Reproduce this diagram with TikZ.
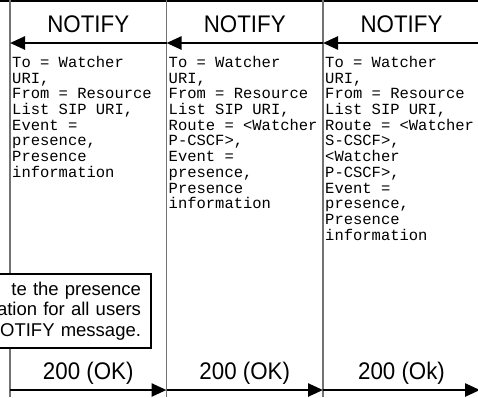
\documentclass[tikz,border=0pt]{standalone}
\usepackage{fontspec}
\setmainfont{Liberation Sans}
\newfontfamily\courierfont{Liberation Mono}
\usetikzlibrary{arrows.meta,positioning,calc}

\begin{document}
\begin{tikzpicture}[x=1pt,y=-1pt,>={Triangle[length=15pt,width=13pt]},
	msg/.style={->,line width=2.5pt},
	msg label/.style={anchor=base,yshift=11pt,inner sep=0pt,
		font=\addfontfeatures{FakeStretch=0.93}\fontsize{24}{26}\selectfont},
	param text/.style={anchor=north west,align=left,inner sep=0pt,
		font=\courierfont\fontsize{15.5}{15.7}\selectfont},
	note box/.style={draw,line width=2pt,fill=white,align=right,text width=190pt,
		minimum height=74pt,inner xsep=10pt,font=\fontsize{18.5}{20.5}\selectfont},
	lifeline/.style={draw=black!55,line width=1.2pt}]

  \useasboundingbox (0,0) rectangle (478,397);
  \clip (0,0) rectangle (478,397);

  % lifelines
  \coordinate (ue) at (10,0);
  \coordinate (pcscf) at (166.5,0);
  \coordinate (scscf) at (323,0);
  \coordinate (rls) at (480,0);
  % message rows
  \coordinate (notify) at (0,43);
  \coordinate (ok) at (0,390);
  \coordinate (bottom) at (0,397);

  \draw[line width=2.5pt] (0,1.2) -- (478,1.2);

  \draw[lifeline] (ue) -- (ue |- bottom);
  \draw[lifeline] (pcscf) -- (pcscf |- bottom);
  \draw[lifeline] (scscf) -- (scscf |- bottom);

  \draw[msg] (rls |- notify) -- node[msg label] {NOTIFY} (scscf |- notify);
  \draw[msg] (scscf |- notify) -- node[msg label] {NOTIFY} (pcscf |- notify);
  \draw[msg] (pcscf |- notify) -- node[msg label] {NOTIFY} (ue |- notify);

  \node[param text] (params1) at (12,56) {To = Watcher\\URI,\\From = Resource\\List SIP URI,\\Event =\\presence,\\Presence\\information};
  \node[param text] (params2) at (168.5,56) {To = Watcher\\URI,\\From = Resource\\List SIP URI,\\Route = <Watcher\\P-CSCF>,\\Event =\\presence,\\Presence\\information};
  \node[param text] (params3) at (325,56) {To = Watcher\\URI,\\From = Resource\\List SIP URI,\\Route = <Watcher\\S-CSCF>,\\<Watcher\\P-CSCF>,\\Event =\\presence,\\Presence\\information};

  \node[note box,anchor=north east] (note) at (152,273) {te the presence\hspace*{15pt}\\ation for all users\\NOTIFY message.\hspace*{2pt}};

  \draw[msg] (ue |- ok) -- node[msg label] {200 (OK)} (pcscf |- ok);
  \draw[msg] (pcscf |- ok) -- node[msg label] {200 (OK)} (scscf |- ok);
  \draw[msg] (scscf |- ok) -- node[msg label] {200 (Ok)} (rls |- ok);

\end{tikzpicture}
\end{document}
